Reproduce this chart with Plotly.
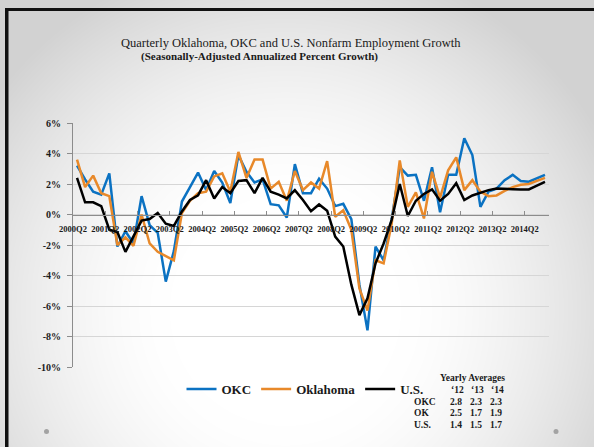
import base64
import struct
import zlib

import numpy as np
import plotly.graph_objects as go

# ---------------- data ----------------
quarters = [f"{2000 + (i + 1) // 4}Q{(i + 1) % 4 + 1}" for i in range(59)]  # 2000Q2 .. 2014Q4
quarter_index = list(range(len(quarters)))

okc = [3.2, 2.3, 1.5, 1.3, 2.7, -2.1, -1.1, -1.9, 1.2, -0.7,
       -1.2, -4.4, -2.4, 0.85, 1.8, 2.75, 1.6, 2.85, 2.1, 0.75,
       3.9, 2.8, 2.1, 2.3, 0.68, 0.6, -0.2, 3.3, 1.4, 1.4,
       2.35, 1.7, 0.55, 0.7, -0.3, -4.6, -7.6, -2.1, -3.0, -0.3,
       3.1, 2.55, 2.6, 0.9, 3.1, 0.15, 2.6, 2.6, 5.0, 3.9,
       0.5, 1.5, 1.7, 2.25, 2.6, 2.2, 2.15, 2.36, 2.6]

oklahoma = [3.6, 1.8, 2.55, 1.4, 1.2, -2.0, -1.5, -2.05, 0.0, -1.9,
            -2.45, -2.75, -3.0, 0.1, 0.9, 1.4, 1.5, 2.5, 2.7, 1.5,
            4.1, 2.4, 3.6, 3.6, 1.7, 2.15, 0.9, 2.85, 1.6, 2.1,
            1.7, 3.5, -0.15, 0.28, -1.0, -4.85, -6.3, -3.0, -3.2, -0.6,
            3.55, 0.5, 1.45, -0.26, 2.8, 1.1, 2.9, 3.75, 1.6, 2.25,
            1.5, 1.2, 1.25, 1.55, 1.8, 1.95, 2.0, 2.2, 2.4]

us = [2.4, 0.8, 0.8, 0.55, -1.0, -1.15, -2.45, -1.45, -0.4, -0.3,
      0.1, -0.6, -0.75, 0.2, 0.95, 1.25, 2.25, 1.05, 1.8, 1.4,
      2.2, 2.25, 1.4, 2.4, 1.5, 1.3, 1.05, 1.6, 0.95, 0.22,
      0.66, 0.25, -1.45, -2.1, -4.6, -6.6, -5.5, -3.2, -1.9, -0.35,
      2.0, -0.1, 0.9, 1.35, 1.65, 0.9, 1.35, 2.05, 0.95, 1.25,
      1.42, 1.6, 1.7, 1.66, 1.66, 1.64, 1.64, 1.9, 2.14]

x_tick_labels = ["2000Q2", "2001Q2", "2002Q2", "2003Q2", "2004Q2", "2005Q2",
                 "2006Q2", "2007Q2", "2008Q2", "2009Q2", "2010Q2", "2011Q2",
                 "2012Q2", "2013Q2", "2014Q2"]
y_tick_values = [-10, -8, -6, -4, -2, 0, 2, 4, 6]
y_tick_labels = ["-10%", "-8%", "-6%", "-4%", "-2%", "0%", "2%", "4%", "6%"]

avg_title = "Yearly Averages"
avg_years = ["\u201812", "\u201813", "\u201814"]
avg_rows = ["OKC", "OK", "U.S."]
avg_okc = [2.8, 2.3, 2.3]
avg_ok = [2.5, 1.7, 1.9]
avg_us = [1.4, 1.5, 1.7]

# ---------------- geometry helpers ----------------
W, H = 594, 447
L, R, T, B = 73, 45, 123, 80
PW, PH = W - L - R, H - T - B


def px(x):
    return (x - L) / PW


def py(y):
    return (H - B - y) / PH


# background radial gradient (slide look)
yy, xx = np.mgrid[0:H, 0:W]
d = np.sqrt(((xx - 285) / 330.0) ** 2 + ((yy - 310) / 330.0) ** 2)
t = np.clip((d - 0.35) / 0.75, 0, 1)
v = (255 - 45 * t ** 1.5).astype(np.uint8)
raw = b"".join(b"\x00" + v[r].tobytes() for r in range(H))


def chunk(tag, data):
    return struct.pack(">I", len(data)) + tag + data + struct.pack(">I", zlib.crc32(tag + data) & 0xffffffff)


png = (b"\x89PNG\r\n\x1a\n" + chunk(b"IHDR", struct.pack(">IIBBBBB", W, H, 8, 0, 0, 0, 0))
       + chunk(b"IDAT", zlib.compress(raw, 9)) + chunk(b"IEND", b""))
bg_uri = "data:image/png;base64," + base64.b64encode(png).decode()

SERIF = "Liberation Serif"
AXIS_GRAY = "#8c8c8c"
TXT = "#1a1a1a"

fig = go.Figure()
for name, vals, color in [("OKC", okc, "#0b72c2"),
                          ("Oklahoma", oklahoma, "#e8892a"),
                          ("U.S.", us, "#000000")]:
    fig.add_trace(go.Scatter(x=quarter_index, y=vals, name=name, mode="lines",
                             hovertext=quarters, line=dict(color=color, width=2.5)))

annotations = [
    dict(text="Quarterly Oklahoma, OKC and U.S. Nonfarm Employment Growth",
         x=px(291), y=py(43), font=dict(family=SERIF, size=12.5, color=TXT)),
    dict(text="(Seasonally-Adjusted Annualized Percent Growth)",
         x=px(259), y=py(56), font=dict(family=SERIF, size=11, color=TXT, weight="bold")),
    dict(text=avg_title, x=px(472), y=py(378),
         font=dict(family=SERIF, size=9.5, color=TXT, weight="bold")),
]
col_x = [457, 477, 497]
row_y = [402, 413, 425]
for j, yr in enumerate(avg_years):
    annotations.append(dict(text=yr, x=px(col_x[j]), y=py(390),
                            font=dict(family=SERIF, size=9.5, color=TXT, weight="bold")))
for r, (lab, vals) in enumerate(zip(avg_rows, [avg_okc, avg_ok, avg_us])):
    annotations.append(dict(text=lab, x=px(412), y=py(row_y[r]), xanchor="left",
                            font=dict(family=SERIF, size=9.5, color=TXT, weight="bold")))
    for j, val in enumerate(vals):
        annotations.append(dict(text=f"{val:.1f}", x=px(col_x[j] - 1), y=py(row_y[r]),
                                font=dict(family=SERIF, size=9.5, color=TXT, weight="bold")))
for a in annotations:
    a.update(xref="paper", yref="paper", showarrow=False, yanchor="middle",
             xanchor=a.get("xanchor", "center"))

shapes = [
    # slide frame (top and left)
    dict(type="rect", x0=px(5), x1=px(W + 5), y0=py(8), y1=py(11), fillcolor="#111111", line_width=0),
    dict(type="rect", x0=px(5), x1=px(8.5), y0=py(8), y1=py(H + 5), fillcolor="#111111", line_width=0),
    # slide bullets
    dict(type="circle", x0=px(44), x1=px(49), y0=py(429), y1=py(434), fillcolor="#a3a3a3", line_width=0),
    dict(type="circle", x0=px(553.5), x1=px(558.5), y0=py(429), y1=py(434), fillcolor="#a3a3a3", line_width=0),
]
for s in shapes:
    s.update(xref="paper", yref="paper")

fig.update_layout(
    width=W, height=H,
    margin=dict(l=L, r=R, t=T, b=B, pad=0, autoexpand=False),
    paper_bgcolor="#dedede",
    plot_bgcolor="rgba(0,0,0,0)",
    images=[dict(source=bg_uri, xref="paper", yref="paper", x=px(0), y=py(0),
                 sizex=W / PW, sizey=H / PH, xanchor="left", yanchor="top",
                 sizing="stretch", layer="below")],
    annotations=annotations,
    shapes=shapes,
    showlegend=True,
    legend=dict(orientation="h", x=px(305), y=py(389), xanchor="center", yanchor="middle",
                font=dict(family=SERIF, size=13, color=TXT, weight="bold"),
                bgcolor="rgba(0,0,0,0)", itemwidth=30, tracegroupgap=0),
    xaxis=dict(type="linear", range=[-0.5, len(quarters) - 0.5], anchor="free",
               position=10 / 16, showgrid=False, zeroline=False,
               showline=True, linecolor=AXIS_GRAY, linewidth=1,
               tickmode="array", tickvals=[i - 0.5 for i in range(0, 57, 4)],
               ticktext=x_tick_labels, ticks="inside", ticklen=4, tickcolor=AXIS_GRAY,
               ticklabelstandoff=6,
               tickfont=dict(family=SERIF, size=8.5, color=TXT, weight="bold")),
    yaxis=dict(range=[-10, 6], tickmode="array", tickvals=y_tick_values, ticktext=y_tick_labels,
               showgrid=True, gridcolor="#d6d6d6", gridwidth=1, zeroline=False,
               showline=True, linecolor=AXIS_GRAY, linewidth=1,
               ticks="outside", ticklen=5, tickcolor=AXIS_GRAY, ticklabelstandoff=4,
               tickfont=dict(family=SERIF, size=10, color=TXT, weight="bold")),
    hovermode="x unified",
)

fig.write_html("out.html", config={"displayModeBar": False},
               post_script="document.body.style.margin='0';document.body.style.overflow='hidden';")
